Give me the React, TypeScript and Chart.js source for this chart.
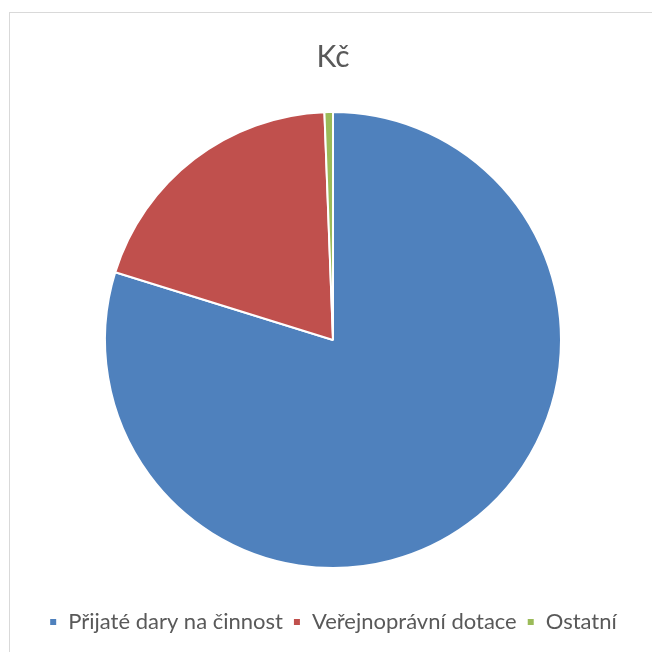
import React, { useEffect, useRef } from "react";
import { Chart, registerables } from "chart.js";

Chart.register(...registerables);

const categories = ["Přijaté dary na činnost", "Veřejnoprávní dotace", "Ostatní"];
const values = [79.8, 19.6, 0.6];
const colors = ["#4f81bd", "#c0504d", "#9bbb59"];
const chartTitle = "Kč";

const FONT = "Lato, 'Open Sans', sans-serif";

export default function App() {
  const ref = useRef<HTMLCanvasElement | null>(null);
  useEffect(() => {
    document.body.style.margin = "0";
    const ctx = ref.current!;
    const chart = new Chart(ctx, {
      type: "pie",
      data: {
        labels: categories,
        datasets: [
          {
            data: values,
            backgroundColor: colors,
            borderColor: "#ffffff",
            borderWidth: 2,
          },
        ],
      },
      options: {
        animation: false,
        responsive: false,
        maintainAspectRatio: false,
        layout: { padding: { left: 14, right: 0, top: 0, bottom: 9 } },
        plugins: {
          tooltip: { enabled: false },
          title: {
            display: true,
            text: chartTitle,
            color: "#595959",
            font: { family: FONT, size: 30, weight: "normal" },
            padding: { top: 39, bottom: 36 },
          },
          legend: {
            position: "bottom",
            title: {
              display: true,
              text: " ",
              font: { family: FONT, size: 10 },
              padding: { top: 20, bottom: 0 },
            },
            labels: {
              color: "#595959",
              font: { family: FONT, size: 22 },
              boxWidth: 8,
              boxHeight: 8,
              padding: 10,
            },
          },
        },
      },
    });
    return () => chart.destroy();
  }, []);
  return (
    <div style={{ position: "relative", width: 652, height: 652, overflow: "hidden", background: "#fff" }}>
      <div
        style={{
          position: "absolute",
          left: 9,
          top: 12,
          width: 700,
          height: 700,
          border: "1px solid #d9d9d9",
          boxSizing: "border-box",
        }}
      />
      <canvas ref={ref} width={652} height={652} style={{ position: "absolute", left: 0, top: 0 }} />
    </div>
  );
}
